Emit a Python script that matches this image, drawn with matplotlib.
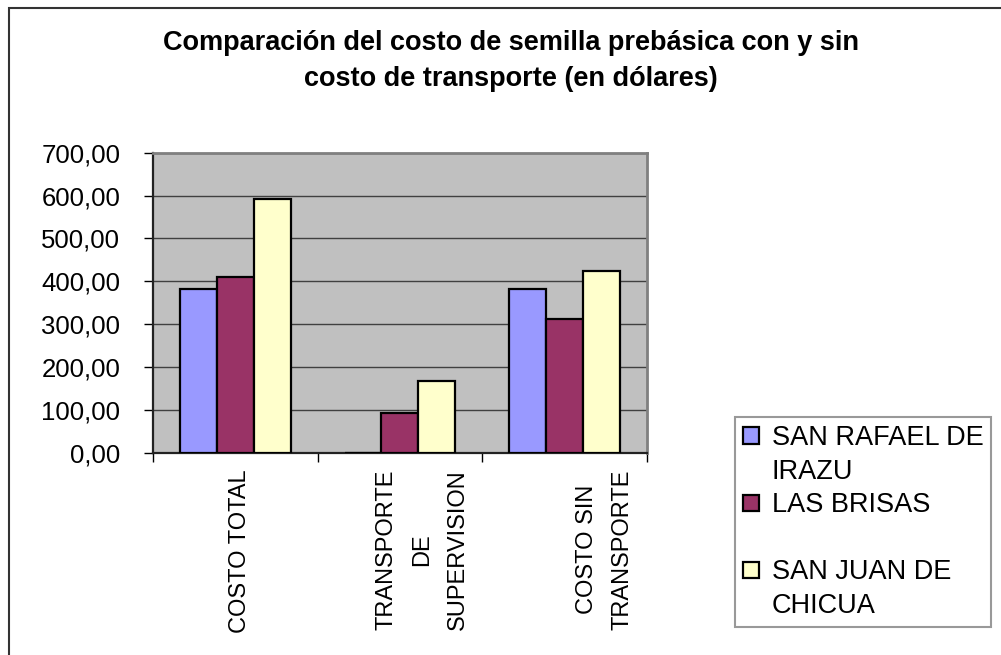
import numpy as np
import matplotlib
matplotlib.use("Agg")
import matplotlib.pyplot as plt
from matplotlib.patches import Patch, Rectangle
from matplotlib.ticker import FuncFormatter, FixedLocator
import matplotlib.transforms as mtransforms

# -----------------------------
# Data (US dollars)
# -----------------------------
categories = ["COSTO TOTAL", "TRANSPORTE\nDE\nSUPERVISION", "COSTO SIN\nTRANSPORTE"]
san_rafael = [382, 0, 382]
las_brisas = [410, 93, 312]
san_juan = [592, 168, 424]
y_ticks = [0, 100, 200, 300, 400, 500, 600, 700]

colors = ["#9999FF", "#993366", "#FFFFCC"]

plt.rcParams["font.family"] = ["Liberation Sans", "DejaVu Sans"]

fig = plt.figure(figsize=(10.01, 6.55), dpi=100)
ax = fig.add_axes([153 / 1001, 1 - 452.7 / 655, 493.7 / 1001, 300 / 655])
ax.set_facecolor("#C0C0C0")

# -----------------------------
# Bars
# -----------------------------
x = np.arange(len(categories))
width = 0.224
bars = []
for i, vals in enumerate([san_rafael, las_brisas, san_juan]):
    b = ax.bar(x + (i - 1) * width, vals, width, color=colors[i],
               edgecolor="black", linewidth=1.6, zorder=3)
    bars.append(b)

ax.set_xlim(-0.5, 2.5)
ax.set_ylim(0, 700)

# -----------------------------
# Axes styling
# -----------------------------
ax.set_yticks(y_ticks)
ax.yaxis.set_major_formatter(FuncFormatter(lambda v, p: f"{v:.2f}".replace(".", ",")))
ax.yaxis.grid(True, color="#404040", linewidth=1.0, zorder=0)
ax.tick_params(axis="y", direction="out", length=6.5, width=1, pad=17, labelsize=18.5)

ax.set_xticks(x)
ax.set_xticklabels(categories, rotation=90, fontsize=17, va="top", ha="center",
                   multialignment="center", linespacing=1.8)
ax.tick_params(axis="x", which="major", length=0, pad=12)
ax.xaxis.set_minor_locator(FixedLocator([-0.5, 0.5, 1.5, 2.5]))
ax.tick_params(axis="x", which="minor", direction="out", length=6.5, width=1)

# shift category labels like the original rendering
shifts = [5, 22, 40]
for lbl, dx in zip(ax.get_xticklabels(), shifts):
    lbl.set_transform(lbl.get_transform() +
                      mtransforms.ScaledTranslation(dx / 100, 0, fig.dpi_scale_trans))

for side in ["left", "bottom"]:
    ax.spines[side].set_color("#222222")
    ax.spines[side].set_linewidth(1.6)
for side in ["top", "right"]:
    ax.spines[side].set_color("#808080")
    ax.spines[side].set_linewidth(2)

# -----------------------------
# Title
# -----------------------------
fig.text(511 / 1001, 1 - 61 / 655,
         "Comparación del costo de semilla prebásica con y sin\ncosto de transporte (en dólares)",
         ha="center", va="center", fontsize=19.5, fontweight="bold", linespacing=1.45)

# -----------------------------
# Legend (one row per text line)
# -----------------------------
blank = Patch(facecolor="none", edgecolor="none")
handles = [bars[0], blank, bars[1], blank, bars[2], blank]
labels = ["SAN RAFAEL DE", "IRAZU", "LAS BRISAS", " ", "SAN JUAN DE", "CHICUA"]
leg = fig.legend(handles, labels, loc="upper left",
                 bbox_to_anchor=(735 / 1001, 1 - 417 / 655),
                 borderaxespad=0, fontsize=19.5, frameon=True, fancybox=False,
                 edgecolor="#808080", handlelength=0.6, handleheight=0.55,
                 handletextpad=0.45, labelspacing=0.28, borderpad=0.3)
leg.get_frame().set_linewidth(1.5)
leg.get_frame().set_facecolor("white")

# outer chart border
fig.patches.append(Rectangle((9 / 1001, -0.05), 1.2, 1 - 8 / 655 + 0.05,
                             transform=fig.transFigure, fill=False,
                             edgecolor="#333333", linewidth=1.5))

fig.savefig("out.png", dpi=100)
